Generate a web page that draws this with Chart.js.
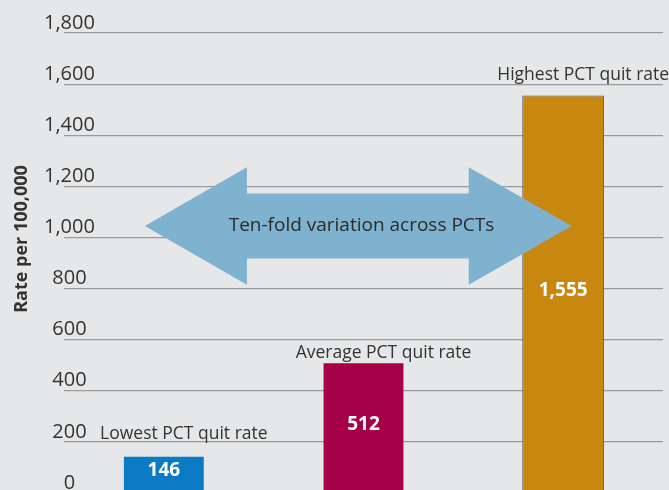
<!DOCTYPE html>
<html>
<head>
<meta charset="utf-8">
<script src="https://cdn.jsdelivr.net/npm/chart.js@4.4.1/dist/chart.umd.min.js"></script>
<style>
  html, body { margin: 0; padding: 0; background: #e6e7e8; overflow: hidden; }
  #wrap { width: 669px; height: 520px; }
</style>
</head>
<body>
<div id="wrap"><canvas id="quitChart" width="669" height="520"></canvas></div>
<script>
let pctLabels = [
    "Lowest PCT quit rate",
    "Average PCT quit rate",
    "Highest PCT quit rate"
];

let quitRates = [146, 512, 1555];

let barColors = [
    "#0a7bc4",  // Lowest
    "#a50048",  // Average
    "#c8870f"   // Highest
];

let barBorders = [
    "rgba(0,0,0,0)",
    "rgba(0,0,0,0)",
    "#5a5a5a"
];

const FONT = "'Open Sans', 'Noto Sans', sans-serif";

function fmt(v) {
    return Number(v).toLocaleString("en-US");
}

// background of the whole canvas
const paintBackground = {
    id: "paintBackground",
    beforeDraw(chart) {
        const ctx = chart.ctx;
        ctx.save();
        ctx.fillStyle = "#e6e7e8";
        ctx.fillRect(0, 0, chart.width, chart.height);
        ctx.restore();
    }
};

// double arrow across the top of the bars
const variationArrow = {
    id: "variationArrow",
    afterDatasetsDraw(chart, args, opts) {
        const x = chart.scales.x;
        const y = chart.scales.y;
        const ctx = chart.ctx;
        const tl = x.getPixelForValue(opts.tipLeft);
        const bl = x.getPixelForValue(opts.baseLeft);
        const br = x.getPixelForValue(opts.baseRight);
        const tr = x.getPixelForValue(opts.tipRight);
        const mid = y.getPixelForValue(opts.mid);
        const hTop = y.getPixelForValue(opts.mid + opts.head);
        const hBot = y.getPixelForValue(opts.mid - opts.head);
        const sTop = y.getPixelForValue(opts.mid + opts.shaft);
        const sBot = y.getPixelForValue(opts.mid - opts.shaft);

        ctx.save();
        ctx.beginPath();
        ctx.moveTo(tl, mid);
        ctx.lineTo(bl, hTop);
        ctx.lineTo(bl, sTop);
        ctx.lineTo(br, sTop);
        ctx.lineTo(br, hTop);
        ctx.lineTo(tr, mid);
        ctx.lineTo(br, hBot);
        ctx.lineTo(br, sBot);
        ctx.lineTo(bl, sBot);
        ctx.lineTo(bl, hBot);
        ctx.closePath();
        ctx.fillStyle = "#7eb2cf";
        ctx.fill();

        ctx.fillStyle = "#2b2b2b";
        ctx.font = "19px " + FONT;
        ctx.textAlign = "center";
        ctx.textBaseline = "middle";
        ctx.fillText(opts.text, x.getPixelForValue(opts.textAt), mid);
        ctx.restore();
    }
};

// names above the bars and values inside them
const barNotes = {
    id: "barNotes",
    afterDatasetsDraw(chart, args, opts) {
        const ctx = chart.ctx;
        const meta = chart.getDatasetMeta(0);
        ctx.save();
        meta.data.forEach((bar, i) => {
            ctx.textAlign = "center";
            ctx.textBaseline = "alphabetic";
            ctx.fillStyle = "#333333";
            ctx.font = "17.5px " + FONT;
            ctx.fillText(chart.data.labels[i], bar.x + opts.nameShift, bar.y - opts.gaps[i]);

            ctx.textBaseline = "middle";
            ctx.fillStyle = "#ffffff";
            ctx.font = "bold 19px " + FONT;
            ctx.fillText(fmt(chart.data.datasets[0].data[i]), bar.x, (bar.y + bar.base) / 2 - 3);
        });
        ctx.restore();
    }
};

// rotated y axis title
const axisTitle = {
    id: "axisTitle",
    afterDraw(chart, args, opts) {
        const ctx = chart.ctx;
        ctx.save();
        ctx.translate(opts.x, opts.y);
        ctx.rotate(-Math.PI / 2);
        ctx.fillStyle = "#333333";
        ctx.font = "bold 18px " + FONT;
        ctx.textAlign = "center";
        ctx.textBaseline = "middle";
        ctx.fillText(opts.text, 0, 0);
        ctx.restore();
    }
};

const quitChart = document.getElementById("quitChart");

if (quitChart) {
    new Chart(quitChart, {
        type: "bar",
        data: {
            labels: pctLabels,
            datasets: [{
                data: quitRates,
                backgroundColor: barColors,
                borderColor: barBorders,
                borderWidth: 1,
                borderSkipped: "bottom",
                barPercentage: 0.41,
                categoryPercentage: 1
            }]
        },
        options: {
            responsive: false,
            animation: false,
            devicePixelRatio: 1,
            layout: {
                padding: { top: 33, right: 6, bottom: 27, left: 0 }
            },
            scales: {
                x: {
                    display: false
                },
                y: {
                    min: 0,
                    max: 1800,
                    afterFit(scale) {
                        scale.width = 64;
                    },
                    border: { display: false },
                    grid: {
                        color: "#9a9a9a",
                        lineWidth: 1.2,
                        drawTicks: false
                    },
                    ticks: {
                        stepSize: 200,
                        mirror: true,
                        crossAlign: "center",
                        padding: -20,
                        labelOffset: -10,
                        color: "#333333",
                        font: { family: FONT, size: 20 },
                        callback: (v) => fmt(v)
                    }
                }
            },
            plugins: {
                legend: { display: false },
                tooltip: { enabled: false },
                variationArrow: {
                    text: "Ten-fold variation across PCTs",
                    tipLeft: -0.095,
                    baseLeft: 0.416,
                    baseRight: 1.527,
                    tipRight: 2.043,
                    textAt: 0.99,
                    mid: 1045,
                    head: 230,
                    shaft: 127
                },
                barNotes: {
                    nameShift: 20,
                    gaps: [17, 4, 16]
                },
                axisTitle: {
                    text: "Rate per 100,000",
                    x: 22,
                    y: 239
                }
            }
        },
        plugins: [paintBackground, variationArrow, barNotes, axisTitle]
    });
}
</script>
</body>
</html>
